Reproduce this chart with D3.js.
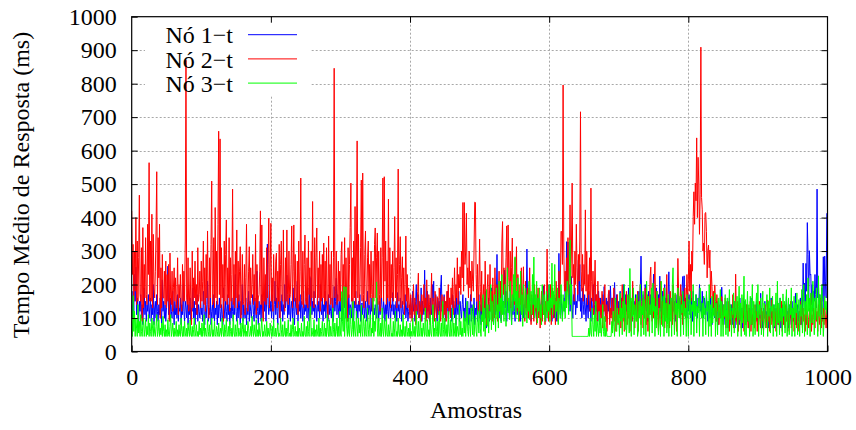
<!DOCTYPE html>
<html><head><meta charset="utf-8">
<script src="https://cdn.jsdelivr.net/npm/d3@7"></script>
<style>body{margin:0;background:#fff}svg{display:block}</style>
</head><body><svg id="c" width="856" height="430"></svg>
<script>
// Nó 1−t (blue)
const no1 = [
140,100,180,120,230,150,252,110,160,130,90,150,120,170,100,140,80,130,190,110,150,90,140,120,170,
100,130,160,90,140,110,200,80,130,150,100,170,120,90,140,110,160,130,80,214,120,150,100,140,90,
130,170,255,110,140,90,160,120,100,180,130,80,150,110,140,100,170,90,130,120,160,80,140,110,200,
120,90,150,130,100,170,80,140,110,160,90,130,120,190,100,150,80,130,110,170,90,140,120,100,160,
110,130,90,180,120,80,150,100,140,210,90,130,110,160,80,120,140,100,170,90,130,110,150,80,140,
100,160,120,90,140,110,80,190,130,100,150,120,90,170,110,140,80,130,100,160,120,90,150,110,230,
120,90,140,100,170,130,80,150,110,200,90,140,120,100,160,80,130,110,180,90,150,120,100,140,170,
110,90,160,130,100,240,120,80,150,110,140,90,170,130,100,150,120,200,90,160,321,140,110,180,120,
150,100,170,130,90,140,210,110,160,120,80,190,130,100,150,120,170,90,140,110,200,130,160,228,100,
140,110,170,90,130,150,100,190,120,80,160,130,110,210,90,140,120,170,100,150,130,90,180,110,140,
120,160,100,190,130,90,224,140,220,110,150,120,180,100,140,130,90,170,120,150,100,200,130,110,160,
90,140,120,180,100,150,130,90,170,110,140,120,100,160,130,90,194,120,150,219,110,170,130,100,150,
120,160,90,140,110,180,130,194,100,150,120,90,170,110,140,130,100,160,120,90,150,130,180,110,140,
100,150,120,170,90,140,145,110,160,130,100,150,120,90,180,110,140,130,100,160,120,150,90,130,110,
140,120,100,160,130,90,150,110,140,164,120,100,150,130,90,140,110,170,120,100,150,130,90,140,120,
176,110,140,100,130,150,90,176,120,140,100,160,130,90,150,120,110,140,170,100,130,150,90,120,140,
110,160,130,100,180,120,140,90,150,200,110,130,170,100,140,120,190,90,150,130,110,243,140,160,100,
180,120,140,90,160,130,110,200,150,210,100,140,170,120,90,160,130,150,110,190,228,120,140,100,170,
130,90,150,120,180,100,140,160,110,130,90,170,120,150,100,140,80,160,130,110,180,90,150,120,100,
140,170,110,130,90,160,120,100,150,80,130,110,170,90,140,120,100,160,80,130,110,150,90,120,170,
100,140,80,130,160,90,120,150,100,180,70,130,110,160,90,140,120,190,100,150,80,130,170,110,140,
290,120,160,100,200,140,90,170,120,150,110,243,130,180,90,160,120,140,100,200,130,80,150,110,170,
120,90,160,140,110,180,100,150,130,90,200,120,160,100,140,110,170,130,306,150,100,190,120,140,90,
160,110,130,180,100,150,120,90,170,140,110,160,130,100,150,120,180,196,110,140,90,130,170,120,160,
200,110,150,130,90,170,120,140,100,160,130,90,180,120,293,150,110,170,130,100,139,160,120,200,150,
328,180,327,140,200,120,160,224,130,100,170,140,190,110,150,130,180,273,150,260,120,160,100,190,140,
110,170,130,90,160,140,100,180,120,150,90,160,130,110,200,140,100,170,120,150,90,180,130,110,160,
140,100,170,120,194,130,90,160,110,150,120,180,100,196,140,110,160,120,150,206,130,100,170,140,90,
150,120,180,100,160,130,110,200,140,90,170,120,150,100,190,130,110,160,140,90,180,120,150,110,170,
130,100,160,120,180,140,194,285,150,110,170,130,100,200,140,120,160,90,180,130,110,170,140,100,150,
231,120,160,100,190,140,110,170,130,225,120,150,100,180,140,110,200,130,160,120,90,170,238,140,110,
160,130,100,180,120,150,90,170,140,110,200,130,160,100,150,120,190,224,140,226,110,160,130,100,150,
120,170,140,100,160,130,90,180,120,150,110,170,140,100,160,130,200,120,150,110,180,130,100,160,140,
110,170,120,90,150,130,100,160,120,80,140,110,170,100,130,90,150,120,80,140,110,160,100,192,130,
90,140,110,80,150,100,130,70,120,160,90,110,140,80,120,100,150,70,130,110,90,140,100,80,160,
110,90,130,70,120,100,150,80,110,140,90,120,70,130,100,160,80,110,90,140,70,120,100,150,90,
120,80,140,100,174,90,110,70,130,100,150,80,120,90,140,70,110,130,80,160,100,120,90,140,70,
110,130,90,150,80,120,100,160,70,110,140,90,120,80,130,100,164,90,120,70,140,100,110,80,150,
100,130,90,120,174,80,110,140,90,120,100,160,80,130,110,264,150,204,120,263,180,385,290,150,301,
228,231,140,200,120,180,150,230,170,130,485,160,200,120,170,140,110,190,150,283,130,285,208,160,413
];
// Nó 2−t (red)
const no2 = [
420,230,320,150,300,180,400,140,330,150,280,467,170,150,310,90,370,130,260,160,340,170,140,380,230,
564,150,330,150,410,130,350,190,160,240,360,537,140,340,220,380,100,250,130,290,160,160,240,140,270,
130,230,150,260,90,294,160,140,240,120,190,250,150,220,130,170,280,110,200,160,230,140,120,260,150,
240,150,330,870,160,140,280,120,150,250,140,80,300,130,220,160,270,140,200,110,310,150,170,240,130,
270,150,210,330,140,250,120,290,160,360,140,100,280,160,320,509,140,150,340,130,430,160,300,140,380,
658,170,635,130,310,160,260,90,330,150,290,393,140,250,160,340,120,280,150,230,485,140,260,130,300,
160,363,130,270,150,240,313,100,160,290,140,150,260,110,220,380,150,120,240,313,140,250,160,200,290,
140,230,150,350,110,260,130,160,170,240,420,140,378,160,90,280,150,230,140,310,160,260,398,130,250,
383,150,220,120,290,160,150,270,294,130,240,150,320,100,260,330,160,150,363,140,120,280,150,363,170,
140,300,160,170,260,375,130,240,378,150,290,160,130,270,110,330,150,240,518,160,140,300,130,260,348,
150,140,280,130,330,170,250,100,300,160,448,150,130,340,160,280,369,140,250,160,300,120,260,150,290,
160,324,140,270,150,310,140,100,345,160,260,140,300,150,130,280,846,160,180,300,140,160,270,150,240,
150,290,328,130,260,160,340,140,280,150,90,310,160,260,370,503,150,280,130,330,160,433,140,300,629,
160,350,140,180,310,512,150,533,170,130,290,360,150,150,280,330,140,260,160,300,170,120,270,150,320,
369,160,280,354,140,300,170,120,310,160,280,518,150,522,210,330,140,270,160,455,150,310,130,260,160,
300,150,250,403,160,280,130,230,545,150,260,343,130,220,283,140,250,110,200,345,150,230,130,190,140,
100,170,130,90,150,200,110,160,80,140,120,180,234,100,150,130,90,170,110,140,200,120,160,90,214,
130,100,170,140,80,150,234,110,160,120,90,180,130,100,164,140,110,190,150,90,130,170,120,100,164,
110,150,90,180,130,200,120,160,100,190,140,220,110,170,250,130,200,160,280,140,230,190,253,170,300,
220,445,180,445,260,300,413,200,250,160,300,190,240,150,270,210,180,300,446,445,230,150,260,120,200,
336,180,120,240,90,160,200,110,270,140,80,190,230,100,150,260,120,180,90,220,140,100,250,170,120,
200,90,160,240,130,210,110,324,388,170,250,140,200,280,375,150,378,220,180,300,130,250,339,160,210,
140,280,180,313,120,230,160,90,200,140,250,110,180,253,130,90,210,150,120,190,100,160,250,130,80,
170,110,140,90,200,120,160,80,130,190,100,150,70,120,180,90,140,110,200,80,150,120,306,130,90,
160,110,200,80,140,190,100,170,130,80,210,120,160,90,240,150,200,359,358,260,796,300,180,240,130,
280,200,340,170,250,438,200,300,503,220,260,150,300,200,380,250,170,290,210,330,716,240,180,290,150,
260,200,423,180,300,140,230,170,280,120,488,210,150,240,110,190,273,130,170,90,210,120,160,80,140,
100,180,70,150,120,200,90,140,60,110,170,184,80,130,100,160,70,120,190,90,140,60,110,170,80,
130,100,150,70,120,200,90,160,60,140,110,180,80,130,100,170,60,120,150,90,210,110,140,70,160,
120,90,180,60,140,110,200,80,130,160,70,150,100,190,120,80,170,60,140,110,220,252,130,90,160,
100,200,268,140,80,180,120,60,160,100,210,130,80,150,110,190,70,140,100,230,90,160,120,70,180,
110,150,80,200,130,90,170,120,60,140,278,180,100,150,200,110,170,80,140,120,190,100,160,230,150,
210,330,180,260,150,300,240,403,477,380,503,450,638,400,580,500,350,470,909,460,423,300,324,260,413,
415,358,220,302,318,250,303,160,240,194,130,180,110,199,150,90,170,120,140,80,130,100,150,164,110,
80,130,100,160,70,120,90,150,110,60,140,80,120,100,170,70,130,90,231,110,80,150,60,120,100,
140,70,110,90,160,60,120,100,80,140,110,70,130,90,150,60,110,80,130,100,70,140,90,120,60,
110,80,150,100,70,130,90,120,60,100,140,80,110,70,154,90,130,60,110,80,154,100,70,130,90,
120,60,100,140,80,110,70,130,90,150,60,100,80,120,70,140,90,110,60,130,80,100,150,70,110,
90,130,60,100,80,140,70,110,90,60,120,80,150,100,70,130,90,110,60,140,80,120,100,70,130,
90,170,60,110,80,130,100,70,150,90,120,60,140,100,80,160,70,110,90,130,80,150,100,70,120
];
// Nó 3−t (green)
const no3 = [
90,45,167,60,120,45,100,70,45,140,55,90,45,110,60,45,80,100,45,65,95,45,75,50,110,
45,85,60,45,100,70,45,90,55,45,75,110,45,60,95,45,70,50,85,45,105,60,45,80,45,
65,45,95,50,45,75,110,45,60,85,45,70,45,55,90,45,65,45,80,50,45,100,60,45,75,
45,90,55,45,70,45,85,60,45,95,50,45,75,45,65,100,45,55,80,45,60,45,90,50,70,
45,85,45,60,110,45,70,50,45,95,60,45,80,45,55,100,45,65,45,90,50,45,75,60,45,
85,45,55,70,45,100,60,45,80,45,65,95,45,50,75,45,90,60,45,70,45,110,55,45,80,
45,60,95,45,70,50,45,85,45,65,100,45,55,80,45,60,45,90,70,45,50,75,45,105,60,
45,80,55,45,95,45,65,45,85,50,45,70,100,45,60,45,80,55,45,90,45,70,50,45,85,
60,45,75,45,95,50,45,70,45,60,85,45,55,45,100,65,45,80,45,50,90,45,70,45,60,
95,45,55,45,80,45,65,100,45,50,75,45,60,45,90,45,70,55,45,85,45,60,45,105,50,
45,75,45,90,60,45,110,134,45,70,50,45,95,45,65,45,80,55,45,100,45,70,45,60,90,
45,55,85,45,70,45,110,60,45,95,45,75,50,45,130,65,45,85,45,60,100,45,75,45,120,
55,45,179,90,60,194,45,110,193,70,45,100,55,45,130,80,45,65,150,45,90,60,45,120,70,
45,100,55,80,45,139,60,45,110,75,45,95,50,45,130,65,45,85,110,45,70,55,160,45,90,
60,120,208,70,45,100,55,45,85,45,130,60,45,95,70,45,110,50,45,80,45,65,100,45,55,
45,90,45,70,120,45,60,45,100,55,45,80,45,65,45,110,50,45,75,45,90,60,45,70,45,
85,45,60,45,100,55,45,75,45,120,65,45,90,45,55,110,45,70,45,85,60,45,130,50,45,
95,45,65,45,110,55,45,80,140,45,70,45,100,60,45,90,45,120,55,45,85,45,150,65,45,
100,55,45,80,45,120,60,45,95,45,70,130,45,85,55,45,110,45,75,60,45,140,50,90,45,
70,45,120,55,100,45,85,150,60,45,110,75,45,130,90,50,140,45,80,105,60,45,125,95,55,
150,70,45,110,90,170,60,130,45,100,185,75,140,55,120,95,200,65,150,110,80,170,130,60,190,
100,140,70,210,120,160,85,230,110,150,90,200,130,75,180,250,115,160,95,210,140,80,170,120,230,
150,283,100,180,130,220,90,160,120,240,110,170,75,200,140,100,190,130,85,170,120,210,95,150,180,
110,230,140,282,100,170,130,210,85,160,120,190,100,140,80,200,150,110,170,90,130,180,100,150,120,
200,90,160,130,264,110,180,140,260,100,150,120,190,80,160,130,100,200,140,90,170,120,150,100,180,
130,210,160,110,250,333,140,200,45,45,45,45,45,45,45,45,45,45,45,45,45,45,45,45,45,
45,45,45,45,45,45,45,70,45,100,55,45,130,80,45,110,60,150,45,90,70,45,120,55,100,
45,80,140,60,45,105,45,70,45,45,45,45,45,45,45,90,55,120,75,45,160,95,60,130,85,
110,45,175,90,130,50,150,100,200,65,140,45,85,170,120,55,248,130,45,160,105,190,50,140,115,
90,170,45,60,150,100,200,45,135,110,180,50,155,120,45,210,130,100,165,45,140,110,190,55,204,
120,160,45,135,70,180,115,50,85,130,45,210,140,75,165,45,190,90,145,55,80,170,45,140,90,
160,45,200,250,130,50,175,110,145,45,190,125,100,165,45,140,115,180,50,150,105,130,45,170,120,
45,155,110,180,50,140,120,200,45,150,105,170,55,135,115,160,45,190,125,100,145,45,165,110,130,
50,180,120,150,45,200,75,140,45,165,85,130,105,175,45,145,120,50,160,100,135,185,45,150,110,
45,140,105,170,50,125,160,45,115,185,95,140,45,130,110,175,55,150,100,120,165,45,135,195,95,
145,45,170,85,130,225,50,155,45,120,180,90,140,45,165,80,125,200,45,150,115,50,135,175,100,
200,45,140,110,160,50,125,180,45,145,115,70,130,170,45,150,105,190,55,135,120,165,45,140,75,
125,175,45,210,85,145,50,160,90,130,45,172,105,150,55,135,185,45,120,160,50,140,110,190,45,
130,100,165,45,145,115,175,50,125,155,45,140,105,185,55,130,200,45,150,110,170,50,220,120,160,
45,175,130,85,210,145,50,160,95,190,120,45,226,105,170,50,150,200,115,45,90,165,125,150,110
];
const seriesNames = ["Nó 1\u2212t", "Nó 2\u2212t", "Nó 3\u2212t"];
const seriesColors = ["#0000ff", "#ff0000", "#00ff00"];
const xTicks = [0, 200, 400, 600, 800, 1000];
const yTicks = [0, 100, 200, 300, 400, 500, 600, 700, 800, 900, 1000];
const xTitle = "Amostras";
const yTitle = "Tempo Médio de Resposta (ms)";

const FONT = "'Liberation Serif','Times New Roman',Times,serif";
const L = 131.7, R = 827.5, T = 16.7, B = 351.5;
const svg = d3.select("#c");
svg.append("rect").attr("width", 856).attr("height", 430).attr("fill", "#fff");

const x = d3.scaleLinear().domain([0, 1000]).range([L, R]);
const y = d3.scaleLinear().domain([0, 1000]).range([B, T]);

// grid
const grid = svg.append("g").attr("stroke", "#a8a8a8").attr("stroke-width", 1).attr("stroke-dasharray", "2,2");
grid.selectAll("line.h").data(yTicks.slice(1, -1)).join("line").attr("class", "h")
  .attr("x1", L).attr("x2", R).attr("y1", d => Math.round(y(d)) + 0.5).attr("y2", d => Math.round(y(d)) + 0.5);
grid.selectAll("line.v").data(xTicks.slice(1, -1)).join("line").attr("class", "v")
  .attr("y1", T).attr("y2", B).attr("x1", d => Math.round(x(d)) + 0.5).attr("x2", d => Math.round(x(d)) + 0.5);

// legend background (hides grid)
svg.append("rect").attr("x", 145).attr("y", T + 1).attr("width", 166).attr("height", 78).attr("fill", "#fff");

// series
svg.append("clipPath").attr("id", "pc").append("rect")
  .attr("x", L).attr("y", T).attr("width", R - L).attr("height", B - T);
const line = d3.line().x((d, i) => x(i)).y(d => y(d));
const plot = svg.append("g").attr("clip-path", "url(#pc)");
[no1, no2, no3].forEach((s, k) => {
  plot.append("path").datum(s).attr("d", line).attr("fill", "none")
    .attr("stroke", seriesColors[k]).attr("stroke-width", 1);
});

// axes
function styleAxis(g) {
  g.select(".domain").remove();
  g.selectAll(".tick line").attr("stroke", "#000").attr("stroke-width", 1);
  g.selectAll(".tick text").attr("fill", "#000").attr("font-family", FONT).attr("font-size", 24);
}
const fmt = d3.format("d");
svg.append("g").attr("transform", `translate(${L},0)`)
  .call(d3.axisLeft(y).tickValues(yTicks).tickSize(-6).tickPadding(15).tickFormat(fmt)).call(styleAxis);
svg.append("g").attr("transform", `translate(${R},0)`)
  .call(d3.axisRight(y).tickValues(yTicks.slice(1, -1)).tickSize(-6).tickFormat("")).call(styleAxis);
svg.append("g").attr("transform", `translate(0,${B})`)
  .call(d3.axisBottom(x).tickValues(xTicks).tickSize(-6).tickPadding(16).tickFormat(fmt)).call(styleAxis);
svg.append("g").attr("transform", `translate(0,${T})`)
  .call(d3.axisTop(x).tickValues(xTicks.slice(1, -1)).tickSize(-6).tickFormat("")).call(styleAxis);

// frame
svg.append("rect").attr("x", L).attr("y", T).attr("width", R - L).attr("height", B - T)
  .attr("fill", "none").attr("stroke", "#000").attr("stroke-width", 1.2);

// titles
svg.append("text").attr("x", 476).attr("y", 418).attr("text-anchor", "middle")
  .attr("font-family", FONT).attr("font-size", 24).text(xTitle);
svg.append("text").attr("transform", "translate(29,185) rotate(-90)").attr("text-anchor", "middle")
  .attr("font-family", FONT).attr("font-size", 24).text(yTitle);

// legend
const lg = svg.append("g");
seriesNames.forEach((n, k) => {
  const by = 43.3 + k * 24.2;
  lg.append("text").attr("x", 233).attr("y", by).attr("text-anchor", "end")
    .attr("font-family", FONT).attr("font-size", 24).text(n);
  lg.append("line").attr("x1", 248).attr("x2", 297).attr("y1", by - 8.6).attr("y2", by - 8.6)
    .attr("stroke", seriesColors[k]).attr("stroke-width", 1);
});
</script></body></html>
